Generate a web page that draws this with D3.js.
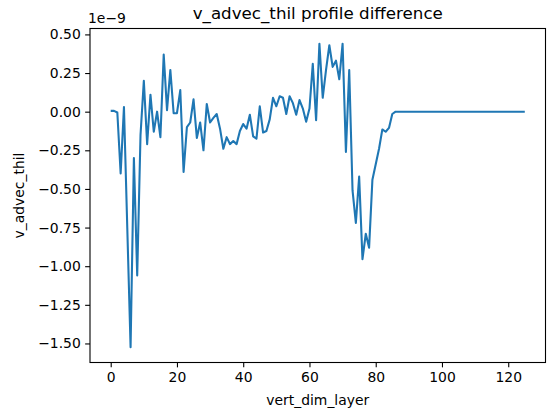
<!DOCTYPE html>
<html>
<head>
<meta charset="utf-8">
<script src="https://cdn.jsdelivr.net/npm/d3@7"></script>
<style>
  html, body { margin: 0; padding: 0; background: #fff; }
  svg { display: block; }
  text { font-family: "DejaVu Sans", sans-serif; fill: #000; }
</style>
</head>
<body>
<svg id="chart" width="548" height="419"></svg>
<script>
// ---- data (values in units of 1e-9) ----
const layers = d3.range(0, 126);
const diffHead = [
  0.005, 0.005, -0.005, -0.40, 0.03, -0.75, -1.525, -0.30, -1.06, -0.15,
  0.20, -0.21, 0.11, -0.13, 0.0, -0.165, 0.37, 0.01, 0.27, -0.01,
  -0.01, 0.14, -0.39, -0.10, -0.07, 0.08, -0.17, -0.07, -0.25, 0.05,
  -0.07, -0.04, -0.015, -0.11, -0.24, -0.165, -0.21, -0.19, -0.21, -0.125,
  -0.08, -0.11, -0.02, -0.16, -0.175, 0.035, -0.135, -0.125, -0.05, 0.09,
  0.035, 0.10, 0.09, -0.015, 0.10, 0.055, -0.02, 0.075, 0.02, -0.065,
  0.02, 0.31, -0.055, 0.44, 0.09, 0.27, 0.43, 0.29, 0.33, 0.21,
  0.44, -0.26, 0.27, -0.51, -0.72, -0.42, -0.955, -0.79, -0.88, -0.44,
  -0.34, -0.24, -0.115, -0.13, -0.105, -0.015, 0.0
];
const diffTail = new Array(126 - 87).fill(0);
const diffValues = diffHead.concat(diffTail);
const xTicks = [0, 20, 40, 60, 80, 100, 120];
const yTicks = [0.50, 0.25, 0.00, -0.25, -0.50, -0.75, -1.00, -1.25, -1.50];
const titleText = "v_advec_thil profile difference";
const xLabel = "vert_dim_layer";
const yLabel = "v_advec_thil";
const offsetText = "1e\u22129";

// ---- layout ----
const svg = d3.select("#chart");
const L = 90, R = 545.5, T = 28.5, B = 362.5;
const fs = 13.9;

const xmin = d3.min(layers), xmax = d3.max(layers);
const xpad = (xmax - xmin) * 0.05;
const ymin = d3.min(diffValues), ymax = d3.max(diffValues);
const ypad = (ymax - ymin) * 0.05;

const x = d3.scaleLinear().domain([xmin - xpad, xmax + xpad]).range([L, R]);
const y = d3.scaleLinear().domain([ymin - ypad, ymax + ypad]).range([B, T]);

const fmt = v => d3.format(".2f")(v).replace("-", "\u2212");

// line
const line = d3.line().x((d, i) => x(layers[i])).y(d => y(d));
svg.append("path")
  .datum(diffValues)
  .attr("d", line)
  .attr("fill", "none")
  .attr("stroke", "#1f77b4")
  .attr("stroke-width", 2.08)
  .attr("stroke-linejoin", "round")
  .attr("stroke-linecap", "butt");

// axes
const xAxis = d3.axisBottom(x).tickValues(xTicks).tickSize(4.86).tickPadding(4.4).tickFormat(d3.format("d"));
const yAxis = d3.axisLeft(y).tickValues(yTicks).tickSize(4.86).tickPadding(4.4).tickFormat(fmt);

const gx = svg.append("g").attr("transform", `translate(0,${B})`).call(xAxis);
const gy = svg.append("g").attr("transform", `translate(${L},0)`).call(yAxis);
[gx, gy].forEach(g => {
  g.select(".domain").remove();
  g.selectAll(".tick line").attr("stroke", "#000").attr("stroke-width", 1.1);
  g.selectAll(".tick text").attr("font-size", fs).attr("font-family", "DejaVu Sans").attr("fill", "#000");
});

// spines
svg.append("rect")
  .attr("x", L).attr("y", T).attr("width", R - L).attr("height", B - T)
  .attr("fill", "none").attr("stroke", "#000").attr("stroke-width", 1.1);

// texts
svg.append("text").attr("x", (L + R) / 2).attr("y", 19).attr("text-anchor", "middle")
  .attr("font-size", 16.7).text(titleText);
svg.append("text").attr("x", (L + R) / 2).attr("y", 405).attr("text-anchor", "middle")
  .attr("font-size", fs).text(xLabel);
svg.append("text").attr("transform", `translate(24,${(T + B) / 2}) rotate(-90)`)
  .attr("text-anchor", "middle").attr("font-size", fs).text(yLabel);
svg.append("text").attr("x", L - 2).attr("y", 23).attr("text-anchor", "start")
  .attr("font-size", fs).text(offsetText);
</script>
</body>
</html>
